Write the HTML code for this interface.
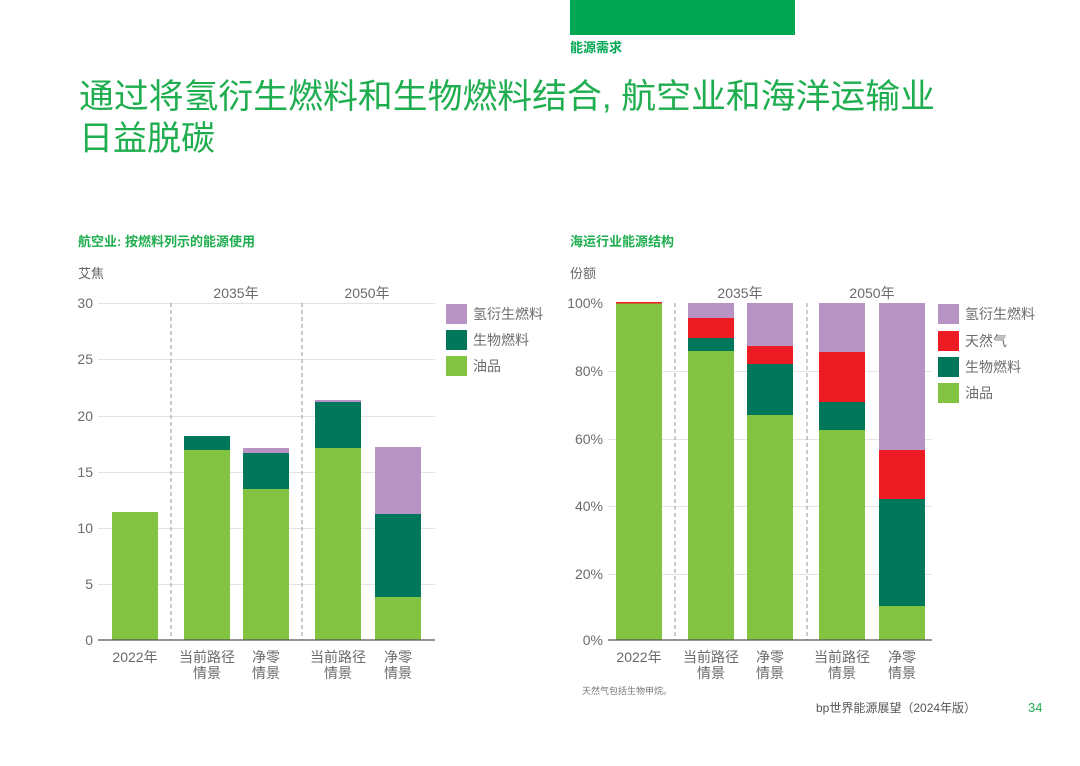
<!DOCTYPE html>
<html><head><meta charset="utf-8"><style>
body{margin:0;background:#fff;}
svg text{font-family:"Liberation Sans","Noto Sans CJK SC",sans-serif;}
</style></head><body>
<svg width="1080" height="761" viewBox="0 0 1080 761" xmlns="http://www.w3.org/2000/svg">
<rect x="570" y="0" width="225" height="35" fill="#00a651"/>
<text x="570" y="52" font-size="13" font-weight="bold" fill="#00a651">能源需求</text>
<text x="79" y="108" font-size="34" fill="#1fae4f" textLength="856" lengthAdjust="spacingAndGlyphs">通过将氢衍生燃料和生物燃料结合, 航空业和海洋运输业</text>
<text x="79" y="150" font-size="34" fill="#1fae4f">日益脱碳</text>

<!-- LEFT CHART -->
<text x="78" y="246" font-size="13" font-weight="bold" fill="#1fae4f">航空业: 按燃料列示的能源使用</text>
<text x="78" y="278" font-size="13" fill="#666">艾焦</text>
<g stroke="#e3e3e3" stroke-width="1">
<line x1="98" x2="435" y1="303.5" y2="303.5"/><line x1="98" x2="435" y1="359.5" y2="359.5"/>
<line x1="98" x2="435" y1="416.5" y2="416.5"/><line x1="98" x2="435" y1="472.5" y2="472.5"/>
<line x1="98" x2="435" y1="528.5" y2="528.5"/><line x1="98" x2="435" y1="584.5" y2="584.5"/>
</g>
<g font-size="14" fill="#6b6b6b" text-anchor="end">
<text x="93" y="308">30</text><text x="93" y="364">25</text><text x="93" y="421">20</text>
<text x="93" y="477">15</text><text x="93" y="533">10</text><text x="93" y="589">5</text><text x="93" y="645">0</text>
</g>
<g stroke="#999" stroke-dasharray="4,3"><line x1="171" x2="171" y1="303" y2="640"/><line x1="302" x2="302" y1="303" y2="640"/></g>
<text x="236" y="298" font-size="14" fill="#6b6b6b" text-anchor="middle">2035年</text>
<text x="367" y="298" font-size="14" fill="#6b6b6b" text-anchor="middle">2050年</text>
<rect x="112" y="512" width="46" height="128" fill="#82c341"/>
<rect x="184" y="450" width="46" height="190" fill="#82c341"/><rect x="184" y="436" width="46" height="14" fill="#00775b"/>
<rect x="243" y="489" width="46" height="151" fill="#82c341"/><rect x="243" y="453" width="46" height="36" fill="#00775b"/><rect x="243" y="448" width="46" height="5" fill="#b894c4"/>
<rect x="315" y="448" width="46" height="192" fill="#82c341"/><rect x="315" y="402" width="46" height="46" fill="#00775b"/><rect x="315" y="400" width="46" height="2" fill="#b894c4"/>
<rect x="375" y="597" width="46" height="43" fill="#82c341"/><rect x="375" y="514" width="46" height="83" fill="#00775b"/><rect x="375" y="447" width="46" height="67" fill="#b894c4"/>
<line x1="98" x2="435" y1="640" y2="640" stroke="#555" stroke-width="1.2"/>
<g font-size="14" fill="#6b6b6b" text-anchor="middle">
<text x="135" y="662">2022年</text>
<text x="207" y="662">当前路径</text><text x="207" y="678">情景</text>
<text x="266" y="662">净零</text><text x="266" y="678">情景</text>
<text x="338" y="662">当前路径</text><text x="338" y="678">情景</text>
<text x="398" y="662">净零</text><text x="398" y="678">情景</text>
</g>
<rect x="446" y="304" width="21" height="20" fill="#b894c4"/><rect x="446" y="330" width="21" height="20" fill="#00775b"/><rect x="446" y="356" width="21" height="20" fill="#82c341"/>
<g font-size="14" fill="#6b6b6b"><text x="473" y="319">氢衍生燃料</text><text x="473" y="345">生物燃料</text><text x="473" y="371">油品</text></g>

<!-- RIGHT CHART -->
<text x="570" y="246" font-size="13" font-weight="bold" fill="#1fae4f">海运行业能源结构</text>
<text x="570" y="278" font-size="13" fill="#666">份额</text>
<g stroke="#e3e3e3" stroke-width="1">
<line x1="608" x2="932" y1="371.5" y2="371.5"/><line x1="608" x2="932" y1="439.5" y2="439.5"/>
<line x1="608" x2="932" y1="506.5" y2="506.5"/><line x1="608" x2="932" y1="574.5" y2="574.5"/>
</g>
<g font-size="14" fill="#6b6b6b" text-anchor="end">
<text x="603" y="308">100%</text><text x="603" y="376">80%</text><text x="603" y="444">60%</text>
<text x="603" y="511">40%</text><text x="603" y="579">20%</text><text x="603" y="645">0%</text>
</g>
<g stroke="#999" stroke-dasharray="4,3"><line x1="675" x2="675" y1="303" y2="640"/><line x1="807" x2="807" y1="303" y2="640"/></g>
<text x="740" y="298" font-size="14" fill="#6b6b6b" text-anchor="middle">2035年</text>
<text x="872" y="298" font-size="14" fill="#6b6b6b" text-anchor="middle">2050年</text>
<rect x="616" y="303" width="46" height="337" fill="#82c341"/><rect x="616" y="302" width="46" height="1.5" fill="#ed1c24"/>
<rect x="688" y="351" width="46" height="289" fill="#82c341"/><rect x="688" y="338" width="46" height="13" fill="#00775b"/><rect x="688" y="318" width="46" height="20" fill="#ed1c24"/><rect x="688" y="303" width="46" height="15" fill="#b894c4"/>
<rect x="747" y="415" width="46" height="225" fill="#82c341"/><rect x="747" y="364" width="46" height="51" fill="#00775b"/><rect x="747" y="346" width="46" height="18" fill="#ed1c24"/><rect x="747" y="303" width="46" height="43" fill="#b894c4"/>
<rect x="819" y="430" width="46" height="210" fill="#82c341"/><rect x="819" y="402" width="46" height="28" fill="#00775b"/><rect x="819" y="352" width="46" height="50" fill="#ed1c24"/><rect x="819" y="303" width="46" height="49" fill="#b894c4"/>
<rect x="879" y="606" width="46" height="34" fill="#82c341"/><rect x="879" y="499" width="46" height="107" fill="#00775b"/><rect x="879" y="450" width="46" height="49" fill="#ed1c24"/><rect x="879" y="303" width="46" height="147" fill="#b894c4"/>
<line x1="608" x2="932" y1="640" y2="640" stroke="#555" stroke-width="1.2"/>
<g font-size="14" fill="#6b6b6b" text-anchor="middle">
<text x="639" y="662">2022年</text>
<text x="711" y="662">当前路径</text><text x="711" y="678">情景</text>
<text x="770" y="662">净零</text><text x="770" y="678">情景</text>
<text x="842" y="662">当前路径</text><text x="842" y="678">情景</text>
<text x="902" y="662">净零</text><text x="902" y="678">情景</text>
</g>
<rect x="938" y="304" width="21" height="20" fill="#b894c4"/><rect x="938" y="331" width="21" height="20" fill="#ed1c24"/><rect x="938" y="357" width="21" height="20" fill="#00775b"/><rect x="938" y="383" width="21" height="20" fill="#82c341"/>
<g font-size="14" fill="#6b6b6b"><text x="965" y="319">氢衍生燃料</text><text x="965" y="346">天然气</text><text x="965" y="372">生物燃料</text><text x="965" y="398">油品</text></g>
<text x="582" y="694" font-size="9" fill="#777">天然气包括生物甲烷。</text>
<text x="816" y="712" font-size="12" fill="#555">bp世界能源展望（2024年版）</text>
<text x="1028" y="712" font-size="13" fill="#1fae4f">34</text>
</svg>
</body></html>
